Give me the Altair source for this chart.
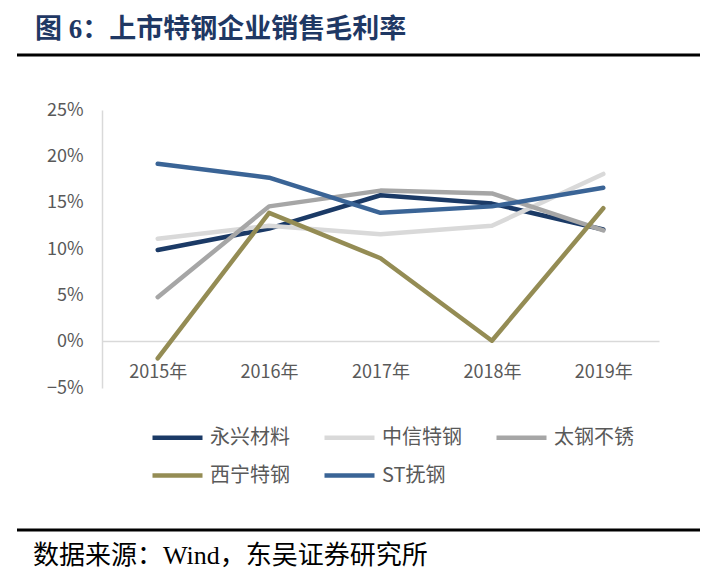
import altair as alt
import pandas as pd

years = ["2015年", "2016年", "2017年", "2018年", "2019年"]
series = ["永兴材料", "中信特钢", "太钢不锈", "西宁特钢", "ST抚钢"]
colors = ["#1B3A66", "#D9D9D9", "#A6A6A6", "#948C54", "#3A6496"]

yongxing = [0.099, 0.122, 0.158, 0.149, 0.121]
zhongxin = [0.111, 0.125, 0.116, 0.125, 0.181]
taigang = [0.048, 0.146, 0.163, 0.160, 0.120]
xining = [-0.018, 0.139, 0.090, 0.001, 0.144]
stfugang = [0.192, 0.177, 0.139, 0.146, 0.166]

title_text = "图 6：上市特钢企业销售毛利率"
source_text = "数据来源：Wind，东吴证券研究所"

values_by_series = [yongxing, zhongxin, taigang, xining, stfugang]
rows = []
for si, (name, vals) in enumerate(zip(series, values_by_series)):
    for yr, v in zip(years, vals):
        rows.append({"year": yr, "value": v, "series": name, "ord": si})
df = pd.DataFrame(rows)

LABEL_FONT = "Noto Sans CJK SC"

lines = alt.Chart(df).mark_line(strokeWidth=4.5, strokeCap="round", strokeJoin="round").encode(
    x=alt.X("year:O", sort=years,
            scale=alt.Scale(type="point", padding=0.5),
            axis=alt.Axis(title=None, labelAngle=0, ticks=False, offset=-47,
                          domainColor="#D9D9D9", domainWidth=1.5,
                          labelPadding=22, labelFontSize=18, labelColor="#595959",
                          labelFont=LABEL_FONT, grid=False)),
    y=alt.Y("value:Q",
            scale=alt.Scale(domain=[-0.05, 0.25], nice=False, zero=False),
            axis=alt.Axis(title=None, format=".0%", values=[-0.05, 0, 0.05, 0.10, 0.15, 0.20, 0.25],
                          ticks=False, grid=False, domainColor="#D9D9D9", domainWidth=1.5,
                          labelPadding=19, labelFontSize=18, labelColor="#595959",
                          labelFont=LABEL_FONT)),
    color=alt.Color("series:N", sort=series,
                    scale=alt.Scale(domain=series, range=colors),
                    legend=alt.Legend(title=None, orient="none", legendX=48, legendY=300,
                                      columns=3, direction="horizontal",
                                      symbolType="stroke", symbolSize=2500,
                                      symbolStrokeWidth=4.5, labelFontSize=20,
                                      labelColor="#595959", labelFont=LABEL_FONT,
                                      labelOffset=5, columnPadding=25, rowPadding=-13,
                                      gridAlign="all", padding=0)),
    order=alt.Order("ord:Q"),
)

one = alt.Data(values=[{"t": title_text, "s": source_text}])

title = alt.Chart(one).mark_text(align="left", baseline="middle", fontSize=27, fontWeight="bold",
                                 color="#1F3864",
                                 font="Liberation Serif, Noto Sans CJK SC").encode(
    text="t:N", x=alt.value(-67), y=alt.value(-80))

source = alt.Chart(one).mark_text(align="left", baseline="middle", fontSize=26, color="#000000",
                                  font="Liberation Serif, Noto Sans CJK SC").encode(
    text="s:N", x=alt.value(-69), y=alt.value(446))

rule_top = alt.Chart(one).mark_rule(color="#000000", strokeWidth=3).encode(
    x=alt.value(-85), x2=alt.value(598), y=alt.value(-55))
rule_bot = alt.Chart(one).mark_rule(color="#000000", strokeWidth=3).encode(
    x=alt.value(-85), x2=alt.value(598), y=alt.value(420))

chart = alt.layer(lines, title, source, rule_top, rule_bot).properties(
    width=557, height=278,
    autosize=alt.AutoSizeParams(type="none"),
    padding={"left": 94, "top": 102, "right": 46, "bottom": 192},
    background="#FFFFFF",
).configure_view(stroke=None)

chart.save("out.html", embed_options={"renderer": "svg", "actions": False})
